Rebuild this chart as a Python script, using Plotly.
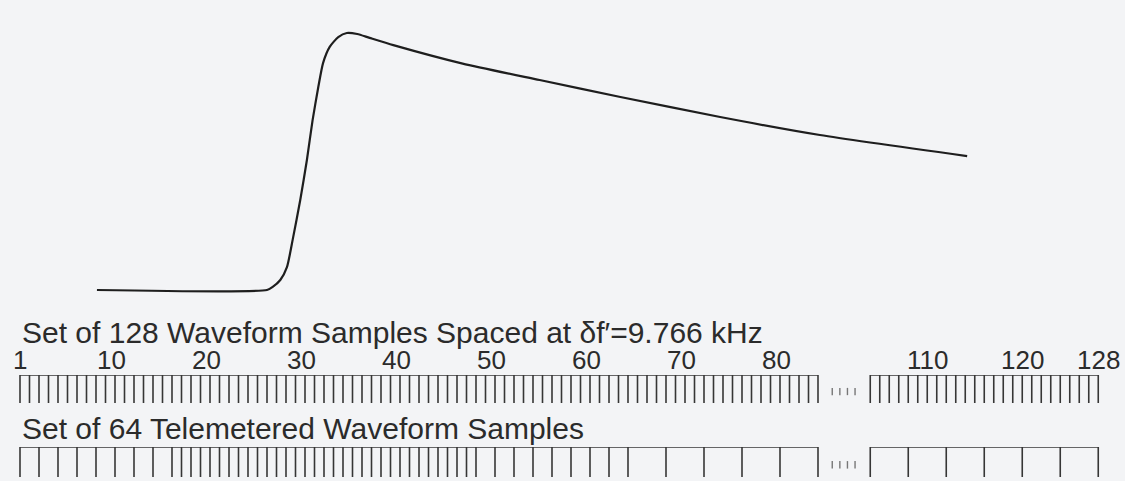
import plotly.graph_objects as go

# ---------------- data ----------------
# waveform (position in sample units, relative amplitude)
wave_pos = [9.1, 27.0, 27.6, 28.4, 29.1, 29.7, 30.5, 31.2, 31.8, 32.4, 32.9, 33.6,
            34.5, 35.4, 36.5, 37.8, 40.3, 47.6, 55.7, 64.2, 74.7, 85.2, 100.7]
wave_amp = [0.0, 0.0, 0.012, 0.039, 0.089, 0.195, 0.35, 0.506, 0.661, 0.79, 0.883, 0.946,
            0.984, 1.0, 0.996, 0.981, 0.953, 0.881, 0.817, 0.751, 0.673, 0.603, 0.521]

# 128-sample ruler (two visible sections)
top_left_samples = list(range(1, 86))
top_right_samples = list(range(104, 129))

# 64 telemetered samples ruler (bin boundaries)
bottom_left_samples = [1, 3, 5, 7, 9, 11, 13, 15, 17,
                       18, 19, 20, 21, 22, 23, 24, 25, 26, 27, 28, 29, 30, 31, 32, 33,
                       34, 35, 36, 37, 38, 39, 40, 41, 42, 43, 44, 45, 46, 47, 48, 49,
                       51, 53, 55, 57, 59, 61, 63, 65,
                       69, 73, 77, 81, 85]
bottom_right_samples = [104, 108, 112, 116, 120, 124, 128]

tick_label_samples = [1, 10, 20, 30, 40, 50, 60, 70, 80, 110, 120, 128]
tick_labels = ["1", "10", "20", "30", "40", "50", "60", "70", "80", "110", "120", "128"]

title_top = "Set of 128 Waveform Samples Spaced at δf′=9.766 kHz"
title_bottom = "Set of 64 Telemetered Waveform Samples"

# ---------------- layout helpers ----------------
W, H = 1125, 481
GAP_SHIFT = 13.5          # samples hidden in the break (position = sample - shift)
SPLIT = 90                # samples above this are in the right section
DOTS = [86.5, 87.3, 88.1, 88.9]


def pos(s):
    return s if s < SPLIT else s - GAP_SHIFT


def row(r):
    return 1 - r / H


def ruler(samples_l, samples_r, axis):
    xs, ys = [], []
    for sec in (samples_l, samples_r):
        p = [pos(s) for s in sec]
        xs += [p[0], p[-1], None]
        ys += [0, 0, None]
        for v in p:
            xs += [v, v, None]
            ys += [0, 1, None]
    return go.Scatter(x=xs, y=ys, mode="lines", yaxis=axis,
                      line=dict(color="#363636", width=1.6),
                      hoverinfo="skip", showlegend=False)


def dots(axis, y0, y1):
    xs, ys = [], []
    for d in DOTS:
        xs += [d, d, None]
        ys += [y0, y1, None]
    return go.Scatter(x=xs, y=ys, mode="lines", yaxis=axis,
                      line=dict(color="#777777", width=1.4),
                      hoverinfo="skip", showlegend=False)


fig = go.Figure()
fig.add_trace(go.Scatter(x=wave_pos, y=wave_amp, mode="lines",
                         line=dict(color="#1e1e1e", width=2.2, shape="spline", smoothing=0.6),
                         hoverinfo="skip", showlegend=False))
fig.add_trace(ruler(top_left_samples, top_right_samples, "y2"))
fig.add_trace(dots("y2", 0.46, 0.72))
fig.add_trace(ruler(bottom_left_samples, bottom_right_samples, "y3"))
fig.add_trace(dots("y3", 0.47, 0.72))

font = "Liberation Sans, Arial, Helvetica, sans-serif"
ann = [
    dict(text=title_top, x=0.0175, xref="paper", xanchor="left",
         y=row(332), yref="paper", yanchor="middle", showarrow=False,
         font=dict(family=font, size=30, color="#2b2b2b")),
    dict(text=title_bottom, x=0.0175, xref="paper", xanchor="left",
         y=row(428), yref="paper", yanchor="middle", showarrow=False,
         font=dict(family=font, size=30, color="#2b2b2b")),
]
for s, t in zip(tick_label_samples, tick_labels):
    ann.append(dict(text=t, x=pos(s), xref="x", xanchor="center",
                    xshift=0 if (s == 1 or s > SPLIT) else 6,
                    y=row(360), yref="paper", yanchor="middle", showarrow=False,
                    font=dict(family=font, size=26, color="#2b2b2b")))

fig.update_layout(
    width=W, height=H, autosize=False,
    margin=dict(l=0, r=0, t=0, b=0, pad=0),
    paper_bgcolor="#f3f4f6", plot_bgcolor="#f3f4f6",
    xaxis=dict(range=[-1.105, 117.316], visible=False, fixedrange=True),
    yaxis=dict(domain=[row(300), 1.0], range=[-0.0389, 1.1284], visible=False),
    yaxis2=dict(domain=[row(403), row(375)], range=[1, 0], visible=False),
    yaxis3=dict(domain=[row(477), row(447)], range=[1, 0], visible=False),
    annotations=ann,
)

fig.write_html("out.html", config={"displayModeBar": False},
               post_script="document.body.style.margin='0';document.body.style.overflow='hidden';")
